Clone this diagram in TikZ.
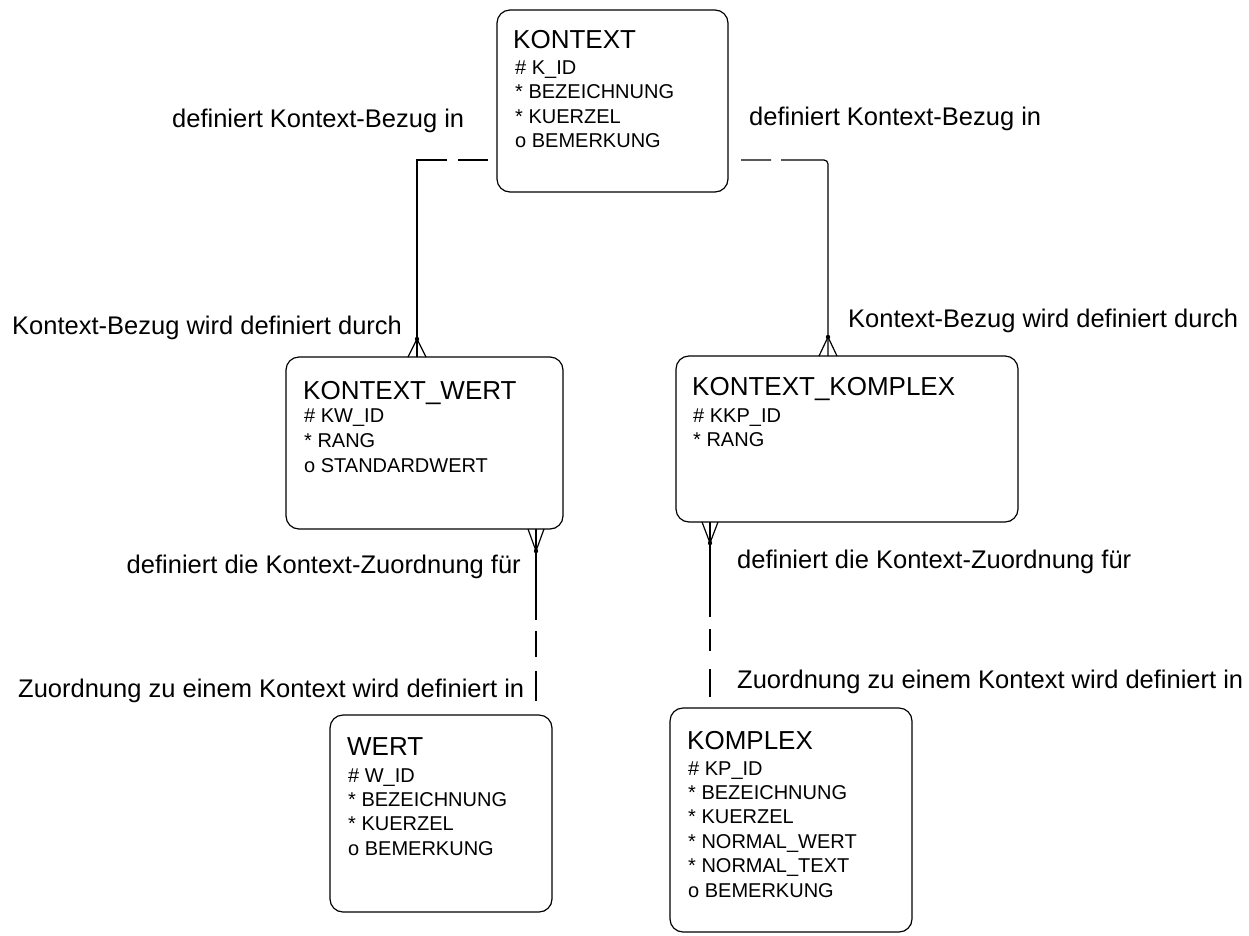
\documentclass[tikz,border=0pt]{standalone}
\usepackage{fontspec}
\setmainfont{Liberation Sans}
\usetikzlibrary{calc}
\begin{document}
\begin{tikzpicture}[x=1pt,y=-1pt,
  entity/.style={draw, line width=1.2pt, rounded corners=13pt, inner sep=0pt, outer sep=0pt},
  entitytitle/.style={anchor=base west, inner sep=0pt, font=\fontsize{26}{30}\selectfont},
  attr/.style={anchor=base west, inner sep=0pt, font=\fontsize{20}{24}\selectfont},
  rel/.style={anchor=base west, inner sep=0pt, font=\fontsize{25.5}{30}\selectfont},
  link/.style={line width=1.2pt},
  footdot/.style={fill=black}
]
\useasboundingbox (0,0) rectangle (1249,935);
\fill[white] (0,0) rectangle (1249,935);

% entity boxes
\node[entity, minimum width=231pt, minimum height=182pt] (kontext) at (612.5,101) {};
\node[entity, minimum width=277pt, minimum height=172pt] (kw) at (424.5,443) {};
\node[entity, minimum width=342pt, minimum height=166pt] (kkp) at (847,439) {};
\node[entity, minimum width=222pt, minimum height=197pt] (wert) at (441,813.5) {};
\node[entity, minimum width=242pt, minimum height=224pt] (komplex) at (791,820) {};

% entity titles and attributes
\node[entitytitle] (kontext-t) at (513,48) {KONTEXT};
\foreach \t [count=\i] in {\# K\_ID, * BEZEICHNUNG, * KUERZEL, o BEMERKUNG}
  \node[attr] (kontext-a\i) at (515,{74+(\i-1)*24.6}) {\t};

\node[entitytitle] (kw-t) at (303,399) {KONTEXT\_WERT};
\foreach \t [count=\i] in {\# KW\_ID, * RANG, o STANDARDWERT}
  \node[attr] (kw-a\i) at (304,{422+(\i-1)*25}) {\t};

\node[entitytitle] (kkp-t) at (692,395) {KONTEXT\_KOMPLEX};
\foreach \t [count=\i] in {\# KKP\_ID, * RANG}
  \node[attr] (kkp-a\i) at (693,{422+(\i-1)*24}) {\t};

\node[entitytitle] (wert-t) at (347,755) {WERT};
\foreach \t [count=\i] in {\# W\_ID, * BEZEICHNUNG, * KUERZEL, o BEMERKUNG}
  \node[attr] (wert-a\i) at (348,{782+(\i-1)*24.4}) {\t};

\node[entitytitle] (komplex-t) at (687,749) {KOMPLEX};
\foreach \t [count=\i] in {\# KP\_ID, * BEZEICHNUNG, * KUERZEL, * NORMAL\_WERT, * NORMAL\_TEXT, o BEMERKUNG}
  \node[attr] (komplex-a\i) at (688,{775+(\i-1)*24.4}) {\t};

% KONTEXT -- KONTEXT_WERT
\coordinate (tl) at (417,160);
\coordinate (kwtop) at (tl |- kw.north);
\draw[link, dash pattern=on 0pt off 9pt on 30pt off 11pt on 2000pt]
  (kontext.west |- tl) -- (tl) -- (kwtop);
\draw[link] ($(kwtop)+(-9,0)$) -- ($(kwtop)+(0,-18)$) -- ($(kwtop)+(9,0)$);
\fill[footdot] ($(kwtop)+(0,-18)$) circle (2.2pt);

% KONTEXT -- KONTEXT_KOMPLEX
\coordinate (tr) at (828,160);
\coordinate (kkptop) at (tr |- kkp.north);
\draw[link, rounded corners=4pt, dash pattern=on 0pt off 13pt on 30pt off 10pt on 2000pt]
  (kontext.east |- tr) -- (tr) -- (kkptop);
\draw[link] ($(kkptop)+(-9,0)$) -- ($(kkptop)+(0,-19)$) -- ($(kkptop)+(9,0)$);
\fill[footdot] ($(kkptop)+(0,-19)$) circle (2.2pt);

% KONTEXT_WERT -- WERT
\coordinate (bl) at (536,0);
\coordinate (kwbot) at (bl |- kw.south);
\draw[link, dash pattern=on 91pt off 11pt on 26pt off 14pt on 30pt off 60pt]
  (kwbot) -- (bl |- wert.north);
\draw[link] ($(kwbot)+(-8,0)$) -- ($(kwbot)+(0,22)$) -- ($(kwbot)+(8,0)$);
\fill[footdot] ($(kwbot)+(0,22)$) circle (2.2pt);

% KONTEXT_KOMPLEX -- KOMPLEX
\coordinate (br) at (710,0);
\coordinate (kkpbot) at (br |- kkp.south);
\draw[link, dash pattern=on 95pt off 12pt on 22pt off 18pt on 28pt off 60pt]
  (kkpbot) -- (br |- komplex.north);
\draw[link] ($(kkpbot)+(-8,0)$) -- ($(kkpbot)+(0,21)$) -- ($(kkpbot)+(8,0)$);
\fill[footdot] ($(kkpbot)+(0,21)$) circle (2.2pt);

% relationship labels
\node[rel] (r1) at (172,127) {definiert Kontext-Bezug in};
\node[rel] (r2) at (749,125) {definiert Kontext-Bezug in};
\node[rel] (r3) at (12,334) {Kontext-Bezug wird definiert durch};
\node[rel] (r4) at (848,327) {Kontext-Bezug wird definiert durch};
\node[rel, anchor=base east] (r5) at (521,573) {definiert die Kontext-Zuordnung für};
\node[rel] (r6) at (737,568) {definiert die Kontext-Zuordnung für};
\node[rel] (r7) at (18,697) {Zuordnung zu einem Kontext wird definiert in};
\node[rel] (r8) at (737,688) {Zuordnung zu einem Kontext wird definiert in};
\end{tikzpicture}
\end{document}
